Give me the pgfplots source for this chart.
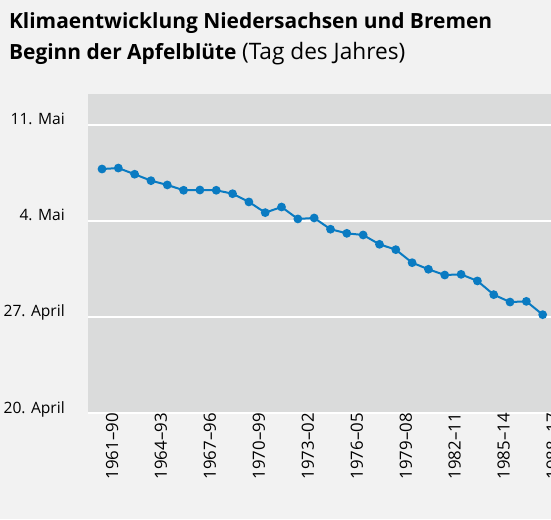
\documentclass[border=0pt]{standalone}
\usepackage{pgfplots}
\pgfplotsset{compat=1.18}
\usepackage{fontspec}
\setmainfont{Open Sans}
\definecolor{pagebg}{HTML}{F2F2F2}
\definecolor{plotbg}{HTML}{DADBDB}
\definecolor{lineblue}{HTML}{0A7BC2}

\begin{document}
\begin{tikzpicture}
\fill[pagebg] (0pt,0pt) rectangle (413.25pt,389.25pt);
\useasboundingbox (0pt,0pt) rectangle (413.25pt,389.25pt);
\node[anchor=base west,inner sep=0pt,font=\fontsize{15.7}{18}\selectfont\bfseries] at (6.6pt,368pt)
  {Klimaentwicklung Niedersachsen und Bremen};
\node[anchor=base west,inner sep=0pt,font=\fontsize{15.7}{18}\selectfont] at (6.6pt,344.8pt)
  {\textbf{Beginn der Apfelblüte} {\fontsize{17}{18}\selectfont(Tag des Jahres)}};
\begin{axis}[
  at={(66pt,79.5pt)}, anchor=south west,
  scale only axis,
  width=347.25pt, height=239.25pt,
  xmin=-0.858, xmax=27.51,
  ymin=0, ymax=23.26,
  axis background/.style={fill=plotbg},
  axis line style={draw=none},
  tick style={draw=none},
  ytick={0,7,14,21},
  yticklabels={20. April,27. April,4. Mai,11. Mai},
  ymajorgrids, grid style={white, line width=1pt},
  xtick={0,3,...,27},
  xticklabels={1961--90,1964--93,1967--96,1970--99,1973--02,1976--05,1979--08,1982--11,1985--14,1988--17},
  yticklabel style={font=\fontsize{11.7}{13}\selectfont, anchor=base east, inner sep=0pt, xshift=-17.25pt},
  xticklabel style={font=\fontsize{12.6}{14}\selectfont, rotate=90, anchor=east, inner sep=0pt, yshift=-7.5pt},
]
\addplot[lineblue, line width=1.5pt, mark=*, mark size=2.5pt, mark options={fill=lineblue, draw=lineblue}]
coordinates {
(0,17.79) (1,17.86) (2,17.41) (3,16.94) (4,16.63) (5,16.24) (6,16.26)
(7,16.24) (8,15.99) (9,15.39) (10,14.61) (11,15.02) (12,14.15) (13,14.22)
(14,13.40) (15,13.10) (16,12.98) (17,12.30) (18,11.91) (19,10.96) (20,10.48)
(21,10.06) (22,10.11) (23,9.63) (24,8.63) (25,8.09) (26,8.14) (27,7.17)
};
\end{axis}
\end{tikzpicture}
\end{document}
